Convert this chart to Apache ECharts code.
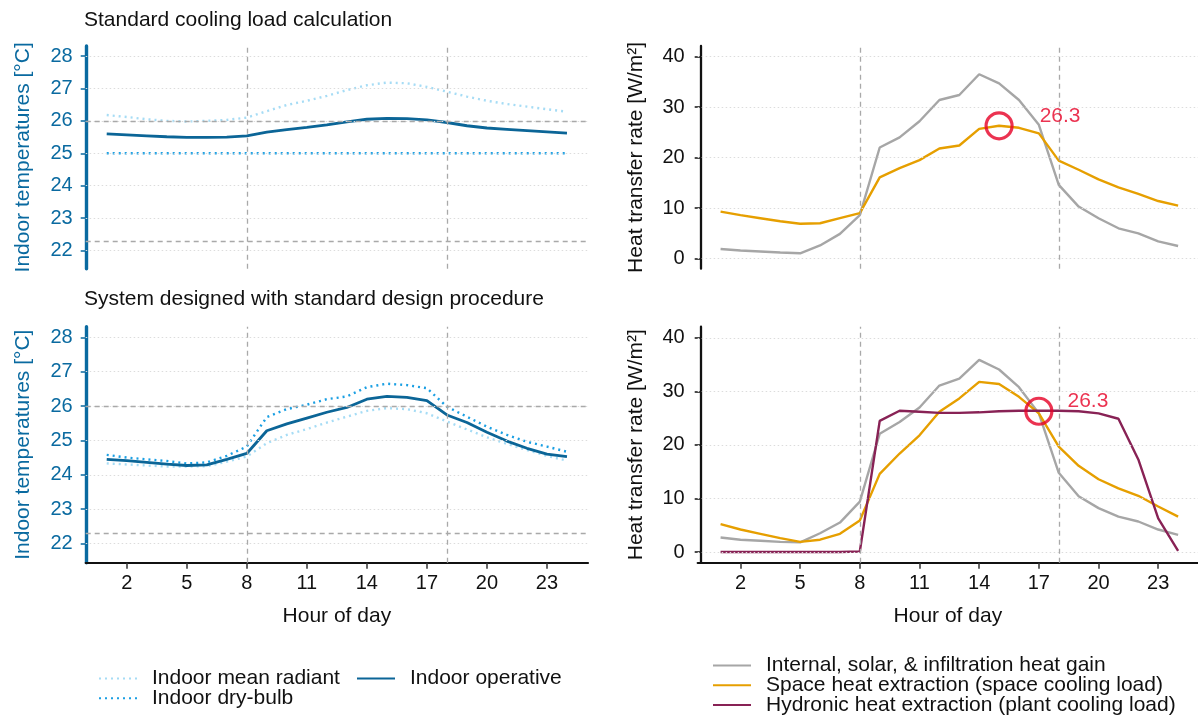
<!DOCTYPE html>
<html>
<head>
<meta charset="utf-8">
<script src="https://cdn.jsdelivr.net/npm/echarts@6/dist/echarts.min.js"></script>
<style>html,body{margin:0;padding:0;background:#fff}#chart{width:1198px;height:717px}</style>
</head>
<body>
<div id="chart"></div>
<script>
// ---------- data ----------
const hours = [1,2,3,4,5,6,7,8,9,10,11,12,13,14,15,16,17,18,19,20,21,22,23,24];
const hourTicks = [2,5,8,11,14,17,20,23];
const tempTicks = [22,23,24,25,26,27,28];
const heatTicks = [0,10,20,30,40];
const hourRefLines = [8,18];
const tempRefLines = [26,22.3];

const panelTitles = ['Standard cooling load calculation','System designed with standard design procedure'];
const tempSeriesNames = ['Indoor mean radiant','Indoor dry-bulb','Indoor operative'];
const heatSeriesNames = ['Internal, solar, & infiltration heat gain','Space heat extraction (space cooling load)','Hydronic heat extraction (plant cooling load)'];

// top-left: standard cooling load calculation
const tlMeanRadiant = [26.18,26.12,26.05,26.00,25.98,26.00,26.03,26.10,26.30,26.49,26.62,26.77,26.95,27.10,27.18,27.16,27.05,26.90,26.75,26.62,26.52,26.44,26.36,26.28];
const tlDryBulb     = [25.0,25.0,25.0,25.0,25.0,25.0,25.0,25.0,25.0,25.0,25.0,25.0,25.0,25.0,25.0,25.0,25.0,25.0,25.0,25.0,25.0,25.0,25.0,25.0];
const tlOperative   = [25.60,25.57,25.54,25.51,25.49,25.49,25.50,25.54,25.65,25.73,25.80,25.88,25.97,26.05,26.08,26.07,26.03,25.95,25.85,25.78,25.74,25.70,25.66,25.62];
// bottom-left: system designed with standard procedure
const blMeanRadiant = [24.33,24.30,24.27,24.24,24.24,24.25,24.38,24.53,24.92,25.16,25.33,25.52,25.69,25.86,25.94,25.91,25.79,25.55,25.32,25.09,24.90,24.72,24.55,24.41];
const blDryBulb     = [24.58,24.50,24.45,24.40,24.33,24.36,24.55,24.82,25.68,25.91,26.04,26.20,26.28,26.55,26.65,26.61,26.52,25.98,25.69,25.40,25.16,24.96,24.82,24.67];
const blOperative   = [24.45,24.41,24.36,24.31,24.27,24.29,24.45,24.62,25.28,25.48,25.65,25.82,25.96,26.20,26.28,26.25,26.16,25.74,25.52,25.24,24.98,24.77,24.60,24.53];
// top-right
const trGain  = [1.9,1.6,1.4,1.2,1.05,2.6,4.9,8.6,22.0,24.0,27.2,31.4,32.4,36.5,34.7,31.4,26.5,14.6,10.3,8.0,6.0,5.0,3.4,2.5];
const trSpace = [9.3,8.6,8.0,7.4,6.9,7.0,8.0,9.0,16.1,17.9,19.5,21.8,22.4,25.7,26.3,25.9,24.8,19.4,17.6,15.7,14.1,12.8,11.4,10.5];
// bottom-right
const brGain     = [2.7,2.3,2.1,1.9,1.8,3.5,5.5,9.4,22.1,24.3,27.0,31.1,32.4,35.9,34.1,30.8,25.9,14.8,10.4,8.2,6.6,5.7,4.2,3.2];
const brSpace    = [5.2,4.2,3.4,2.6,1.9,2.3,3.4,5.9,14.6,18.4,21.8,26.2,28.7,31.8,31.4,29.0,25.9,19.7,16.1,13.6,11.9,10.5,8.5,6.6];
const brHydronic = [0,0,0,0,0,0,0,0.1,24.5,26.4,26.2,26.0,26.0,26.1,26.3,26.4,26.4,26.4,26.3,25.9,24.9,17.3,6.3,0.2];
// peak annotations [hour, value]
const trPeak = [15, 26.3];
const brPeak = [17, 26.3];

// ---------- style ----------
const FONT = 'Liberation Sans, Arial, sans-serif';
const BLUE_AXIS = '#0a6aa0';
const C_OPER = '#0b6597', C_DRY = '#1a9fe3', C_MRT = '#a6dcf5';
const C_GAIN = '#a6a6a6', C_SPACE = '#e69f00', C_HYD = '#882255', C_RED = '#e60026';
const GRID_LINE = {color:'#dcdcdc', width:1, type:[1.5,2.5]};
const REF_LINE = {color:'#a9a9a9', width:1.3, type:[5,4]};

const grids = [
  {left:85.7, top:46, width:502.3, height:222.7},
  {left:85.7, top:326.7, width:502.3, height:236},
  {left:697.7, top:46, width:500.3, height:222.7},
  {left:697.7, top:326.7, width:500.3, height:236}
];

function xAxisFor(i){
  const isLeft = i < 2, isBottom = i % 2 === 1;
  return {
    type:'value', gridIndex:i,
    min: isLeft ? -0.05 : -0.15, max: isLeft ? 25.05 : 25,
    show: isBottom,
    name: isBottom ? 'Hour of day' : '',
    nameLocation:'middle', nameGap:43,
    nameTextStyle:{fontFamily:FONT, fontSize:21, color:'#111'},
    axisLine:{show:true, onZero:false, lineStyle:{color:'#111', width:2.2}},
    axisTick:{show:true, length:6, customValues:hourTicks, lineStyle:{color:'#333', width:1.5}},
    axisLabel:{show:true, customValues:hourTicks, margin:11, fontFamily:FONT, fontSize:20, color:'#111'},
    splitLine:{show:false}
  };
}
function yAxisFor(i){
  const isLeft = i < 2;
  const col = isLeft ? BLUE_AXIS : '#111';
  return {
    type:'value', gridIndex:i,
    min: isLeft ? 21.44 : -2, max: isLeft ? 28.31 : 42.1,
    name: isLeft ? 'Indoor temperatures [°C]' : 'Heat transfer rate [W/m²]',
    nameLocation:'middle', nameGap: isLeft ? 52 : 51,
    nameTextStyle:{fontFamily:FONT, fontSize:21, color:col},
    axisLine:{show:true, lineStyle:{color:col, width: isLeft ? 3.4 : 2.3}},
    axisTick:{show:true, length:6, customValues: isLeft ? tempTicks : heatTicks, lineStyle:{color:col, width:1.5}},
    axisLabel:{show:true, customValues: isLeft ? tempTicks : heatTicks, margin:13, fontFamily:FONT, fontSize:20, color:col},
    splitLine:{show:false}
  };
}

function guideSeries(i){
  const isLeft = i < 2;
  const ticks = isLeft ? tempTicks : heatTicks;
  const data = [];
  ticks.forEach(v => data.push({yAxis:v, lineStyle:GRID_LINE}));
  if (isLeft) tempRefLines.forEach(v => data.push({yAxis:v, lineStyle:REF_LINE}));
  hourRefLines.forEach(v => data.push({xAxis:v, lineStyle:REF_LINE}));
  return {
    type:'line', xAxisIndex:i, yAxisIndex:i, data:[], z:1, silent:true,
    markLine:{silent:true, symbol:['none','none'], label:{show:false}, animation:false, data:data}
  };
}
function lineSeries(name, vals, i, color, width, type){
  return {
    type:'line', name:name, xAxisIndex:i, yAxisIndex:i,
    data: hours.map((h,k) => [h, vals[k]]),
    symbol:'none', showSymbol:false, z:3, animation:false,
    lineStyle:{color:color, width:width, type:type},
    itemStyle:{color:color}
  };
}
function peakSeries(pt, i, dist){
  return {
    type:'scatter', xAxisIndex:i, yAxisIndex:i, z:5, animation:false, silent:true,
    data:[pt], symbol:'circle', symbolSize:26,
    itemStyle:{color:'rgba(0,0,0,0)', borderColor:C_RED, borderWidth:3.2},
    label:{show:true, position:'right', distance:dist, offset:[0,-10],
      formatter: p => p.value[1].toFixed(1),
      fontFamily:FONT, fontSize:21, color:C_RED}
  };
}

const series = [
  guideSeries(0), guideSeries(1), guideSeries(2), guideSeries(3),
  lineSeries(tempSeriesNames[0], tlMeanRadiant, 0, C_MRT, 2.4, [2,4]),
  lineSeries(tempSeriesNames[1], tlDryBulb, 0, C_DRY, 2.4, [2,4]),
  lineSeries(tempSeriesNames[2], tlOperative, 0, C_OPER, 2.8, 'solid'),
  lineSeries(tempSeriesNames[0], blMeanRadiant, 1, C_MRT, 2.4, [2,4]),
  lineSeries(tempSeriesNames[1], blDryBulb, 1, C_DRY, 2.4, [2,4]),
  lineSeries(tempSeriesNames[2], blOperative, 1, C_OPER, 2.8, 'solid'),
  lineSeries(heatSeriesNames[0], trGain, 2, C_GAIN, 2.4, 'solid'),
  lineSeries(heatSeriesNames[1], trSpace, 2, C_SPACE, 2.4, 'solid'),
  lineSeries(heatSeriesNames[0], brGain, 3, C_GAIN, 2.4, 'solid'),
  lineSeries(heatSeriesNames[1], brSpace, 3, C_SPACE, 2.4, 'solid'),
  lineSeries(heatSeriesNames[2], brHydronic, 3, C_HYD, 2.4, 'solid'),
  peakSeries(trPeak, 2, 26),
  peakSeries(brPeak, 3, 14)
];

const legendText = {fontFamily:FONT, fontSize:21, color:'#111', padding:[0,0,0,10]};
const legendBase = {orient:'vertical', padding:0, height:90, itemWidth:38, itemHeight:14,
                    selectedMode:false, itemStyle:{opacity:0}, textStyle:legendText};
const option = {
  backgroundColor:'#fff',
  animation:false,
  title: [
    {text:panelTitles[0], left:84, top:10, padding:0, textStyle:{fontFamily:FONT, fontSize:21, fontWeight:'normal', color:'#111'}},
    {text:panelTitles[1], left:84, top:289, padding:0, textStyle:{fontFamily:FONT, fontSize:21, fontWeight:'normal', color:'#111'}}
  ],
  grid: grids,
  xAxis: [0,1,2,3].map(xAxisFor),
  yAxis: [0,1,2,3].map(yAxisFor),
  legend: [
    Object.assign({}, legendBase, {data:[tempSeriesNames[0], tempSeriesNames[1]], left:98, top:668, itemGap:-1.3}),
    Object.assign({}, legendBase, {data:[tempSeriesNames[2]], left:356, top:668, itemGap:-1.3}),
    Object.assign({}, legendBase, {data:heatSeriesNames, left:712, top:655, itemGap:-1.2})
  ],
  series: series
};

const chart = echarts.init(document.getElementById('chart'), null, {renderer:'canvas'});
chart.setOption(option);
</script>
</body>
</html>
